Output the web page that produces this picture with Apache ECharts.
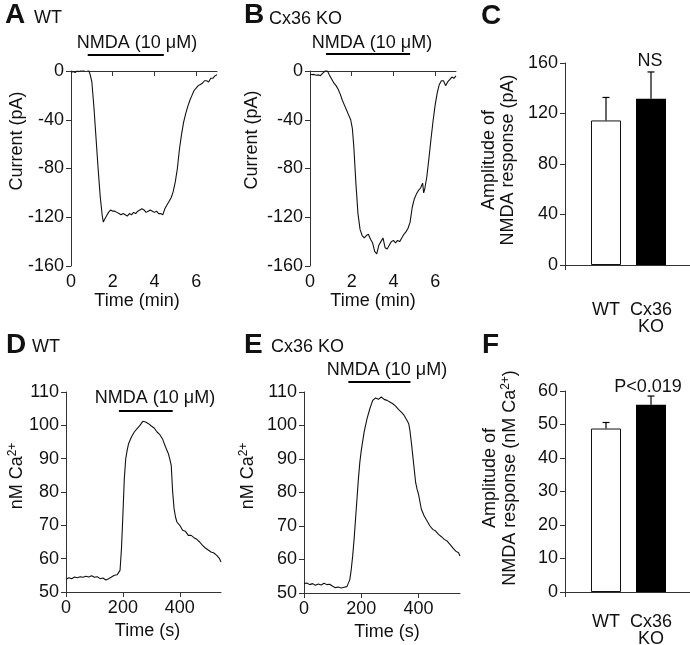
<!DOCTYPE html>
<html>
<head>
<meta charset="utf-8">
<script src="https://cdn.jsdelivr.net/npm/echarts@6/dist/echarts.min.js"></script>
<style>
html,body{margin:0;padding:0;background:#fff;}
#main{width:690px;height:645px;}
</style>
</head>
<body>
<div id="main"></div>
<script>
// A - WT whole-cell current (min, pA)
var tA=[0,0.1,0.2,0.3,0.4,0.5,0.6,0.7,0.78,0.85,0.92,1.0,1.1,1.2,1.3,1.4,1.5,1.55,1.6,1.7,1.8,1.9,2.0,2.1,2.2,2.3,2.4,2.5,2.6,2.7,2.8,2.9,3.0,3.1,3.2,3.3,3.4,3.5,3.6,3.7,3.8,3.9,4.0,4.1,4.2,4.3,4.4,4.5,4.6,4.7,4.8,4.9,5.0,5.1,5.2,5.3,5.4,5.5,5.6,5.7,5.8,5.9,6.0,6.1,6.2,6.3,6.4,6.5,6.6,6.7,6.8,6.9,7.0];
var iA=[-1,-0.5,-1.2,0.3,-0.4,0.8,0.2,1.5,3,0.5,-3,-9,-30,-55,-80,-103,-119,-124,-122,-119,-116,-114,-115,-115,-116,-117,-118,-117,-118,-119,-117,-118,-116,-117,-115,-114,-113,-114,-116,-115,-114,-115,-116,-115,-117,-117,-118,-113,-110,-107,-104,-99,-91,-80,-64,-52,-42,-35,-29,-24,-20,-16,-14,-12,-11,-10,-8,-8,-9,-6,-6,-4,-3];

// B - Cx36 KO whole-cell current
var tB=[0,0.1,0.2,0.3,0.4,0.5,0.6,0.7,0.77,0.85,0.95,1.05,1.15,1.25,1.35,1.45,1.55,1.65,1.75,1.85,1.95,2.03,2.1,2.2,2.3,2.4,2.5,2.6,2.7,2.8,2.9,3.0,3.1,3.2,3.3,3.4,3.5,3.6,3.7,3.8,3.9,4.0,4.1,4.2,4.3,4.4,4.5,4.6,4.7,4.8,4.9,5.0,5.1,5.2,5.3,5.4,5.45,5.5,5.6,5.7,5.8,5.9,6.0,6.1,6.2,6.3,6.4,6.5,6.6,6.7,6.8,6.9,7.0];
var iB=[-2.5,-3,-2.8,-3.5,-3.2,-3.8,-2,-0.5,1.5,-0.5,-4,-7,-10,-12,-15,-19,-24,-28,-32,-36,-40,-47,-62,-92,-117,-130,-135,-137,-135,-134,-138,-141,-148,-150,-143,-140,-137,-145,-146,-143,-140,-139,-141,-139,-140,-137,-134,-132,-129,-124,-112,-105,-101,-98,-96,-92,-100,-97,-87,-72,-56,-41,-28,-18,-11,-8,-8,-12,-9,-7,-5,-6,-4];

// C - amplitude of NMDA current (pA), mean and SEM
var groups=['WT','Cx36\nKO'];
var ampC=[114.5,131.7];
var semC=[18.2,21.2];

// D - WT calcium (s, nM)
var tD=[0,10,20,30,40,50,60,70,80,90,100,110,120,130,140,150,160,170,180,186,190,195,200,205,210,215,220,230,240,250,260,270,280,290,300,310,320,330,340,350,360,366,370,375,380,385,390,400,410,420,430,440,450,460,470,480,490,500,510,520,530,540,545];
var cD=[53.8,54.3,54.0,54.5,54.3,54.6,54.4,54.7,54.5,54.9,54.4,54.6,54.0,54.2,53.6,54.0,54.5,55.0,55.2,55.6,56.5,63,73,84,90,92.5,94.5,96.5,98,99,100,101.2,101,100.5,99.8,99.2,98,97.2,95.8,93.5,91.5,89.5,88,80,75,72.5,71,70,68.5,68.2,67,67,66.3,65.8,65,64,63.2,62.6,62,61.7,61,60,59];

// E - Cx36 KO calcium
var tE=[0,10,20,30,40,50,60,70,80,90,100,110,120,130,140,150,155,160,165,170,175,180,185,190,195,200,210,220,230,240,250,260,270,280,290,300,310,320,330,340,350,360,366,370,375,380,385,390,395,400,410,420,430,440,450,460,470,480,490,500,510,520,530,540,545];
var cE=[52.8,53.0,52.5,52.8,52.3,52.7,52.4,52.9,52.5,52.6,52.0,51.6,51.8,51.5,51.7,51.9,52.3,54,57,61,66,72,78,84,89,92.5,98,102,105,107.5,108.2,107.8,108.5,107.8,107.5,107,106.5,105.8,104.8,104,103,101.5,100.5,98.5,95,91,87,83,81,79.5,75,73,71.5,70,69,68.5,67.5,66.8,66,65.5,64.5,63.5,62.5,62,61];

// F - amplitude of calcium response (nM), mean and SEM
var ampF=[48.8,55.9];
var semF=[1.8,2.6];

// NMDA application periods
var nmdaA=[0.8,4.45];
var nmdaB=[0.77,4.8];
var nmdaD=[186,375];
var nmdaE=[155,372];

var FONT='"Liberation Sans", Arial, Helvetica, sans-serif';
var INK='#111';

function zip(a,b){
	var out=[];
	for(var i=0;i<a.length;i++){out.push([a[i],b[i]]);}
	return out;
}

function xAx(idx,min,max,ticks,name,pad,gap){
	return {
		type:'value',gridIndex:idx,min:min,max:max,
		axisLine:{lineStyle:{color:'#333',width:1}},
		axisTick:{length:5,customValues:ticks,lineStyle:{color:'#333'}},
		axisLabel:{customValues:ticks,fontSize:18,color:INK,fontFamily:FONT,margin:7},
		splitLine:{show:false},
		name:name,nameLocation:'middle',nameGap:gap,
		nameTextStyle:{fontSize:18,color:INK,fontFamily:FONT,padding:pad}
	};
}
function yAx(idx,min,max,interval){
	return {
		type:'value',gridIndex:idx,min:min,max:max,interval:interval,
		axisLine:{show:true,lineStyle:{color:'#333',width:1}},
		axisTick:{show:true,length:5,lineStyle:{color:'#333'}},
		axisLabel:{fontSize:18,color:INK,fontFamily:FONT,margin:7},
		splitLine:{show:false}
	};
}
function baseX(idx){
	return {
		type:'value',gridIndex:idx,min:0,max:1,
		axisLine:{lineStyle:{color:'#333',width:1}},
		axisTick:{length:5,customValues:[0],lineStyle:{color:'#333'}},
		axisLabel:{show:false},splitLine:{show:false}
	};
}
function catX(idx,margin){
	return {
		type:'category',gridIndex:idx,data:groups,
		axisLine:{show:false},axisTick:{show:false},
		axisLabel:{interval:0,hideOverlap:false,fontSize:18,color:INK,fontFamily:FONT,margin:margin,lineHeight:17}
	};
}
function hiddenY(idx,min,max){
	return {type:'value',gridIndex:idx,min:min,max:max,show:false,splitLine:{show:false}};
}

function barSeries(idx,vals){
	return {
		type:'bar',xAxisIndex:idx,yAxisIndex:idx,barWidth:30,
		data:[
			{value:vals[0],itemStyle:{color:'#fff',borderColor:INK,borderWidth:1}},
			{value:vals[1],itemStyle:{color:'#000'}}
		]
	};
}
function errSeries(idx,vals,sems){
	var d=[];
	for(var i=0;i<vals.length;i++){d.push([i,vals[i],vals[i]+sems[i]]);}
	return {
		type:'custom',xAxisIndex:idx,yAxisIndex:idx,z:5,data:d,
		renderItem:function(params,api){
			var p0=api.coord([api.value(0),api.value(1)]);
			var p1=api.coord([api.value(0),api.value(2)]);
			var st={stroke:'#000',lineWidth:1.2};
			return {type:'group',children:[
				{type:'line',shape:{x1:p0[0],y1:p0[1],x2:p1[0],y2:p1[1]},style:st},
				{type:'line',shape:{x1:p1[0]-3.5,y1:p1[1],x2:p1[0]+3.5,y2:p1[1]},style:st}
			]};
		}
	};
}
function trace(idx,t,v){
	return {
		type:'line',xAxisIndex:idx,yAxisIndex:idx,data:zip(t,v),
		showSymbol:false,symbol:'none',lineStyle:{color:INK,width:1.1},z:3
	};
}
function grid(l,t,w,h){
	return {left:l,top:t,width:w,height:h,outerBoundsMode:'none',containLabel:false};
}

var myChart=echarts.init(document.getElementById('main'),null,{renderer:'canvas'});
var option={
	animation:false,
	backgroundColor:'#fff',
	grid:[
		grid(71,71,146,195),
		grid(310,71,146,195),
		grid(565,63,125,202),
		grid(583.5,63,90,202),
		grid(66,392,155,200),
		grid(304,392,156,201),
		grid(565,391,125,201),
		grid(583.5,391,90,201)
	],
	xAxis:[
		xAx(0,0,7,[0,2,4,6],'Time (min)',[0,14,0,0],26),
		xAx(1,0,7,[0,2,4,6],'Time (min)',[0,20,0,0],26),
		baseX(2),
		catX(3,37),
		xAx(4,0,545,[0,200,400],'Time (s)',[0,0,0,8],30),
		xAx(5,0,545,[0,200,400],'Time (s)',[0,0,0,10],30),
		baseX(6),
		catX(7,22)
	],
	yAxis:[
		yAx(0,-160,0,40),
		yAx(1,-160,0,40),
		yAx(2,0,160,40),
		hiddenY(3,0,160),
		yAx(4,50,110,10),
		yAx(5,50,110,10),
		yAx(6,0,60,10),
		hiddenY(7,0,60)
	],
	series:[
		trace(0,tA,iA),
		trace(1,tB,iB),
		barSeries(3,ampC),
		errSeries(3,ampC,semC),
		trace(4,tD,cD),
		trace(5,tE,cE),
		barSeries(7,ampF),
		errSeries(7,ampF,semF)
	]
};
myChart.setOption(option);

// text and NMDA bars
function txt(x,y,s,size,opt){
	opt=opt||{};
	return {
		type:'text',x:x,y:y,rotation:opt.rot||0,z:10,
		style:{
			text:s,fontSize:size,fontFamily:FONT,fill:INK,
			fontWeight:opt.bold?'bold':'normal',
			align:opt.align||'center',verticalAlign:'middle',
			lineHeight:opt.lh,rich:opt.rich
		}
	};
}
function nmdaBar(grid,range,y){
	var p0=myChart.convertToPixel({gridIndex:grid},[range[0],0]);
	var p1=myChart.convertToPixel({gridIndex:grid},[range[1],0]);
	return {type:'line',z:10,shape:{x1:p0[0],y1:y,x2:p1[0],y2:y},style:{stroke:'#000',lineWidth:2}};
}
var R=Math.PI/2;
var caRich={
	a:{fontSize:18,fontFamily:FONT,fill:INK,lineHeight:20},
	s:{fontSize:12,fontFamily:FONT,fill:INK,verticalAlign:'top',lineHeight:20}
};
var g=[
	txt(5,15,'A',28,{bold:true,align:'left'}),
	txt(244,15,'B',28,{bold:true,align:'left'}),
	txt(481,16,'C',28,{bold:true,align:'left'}),
	txt(6,345,'D',28,{bold:true,align:'left'}),
	txt(244,345,'E',28,{bold:true,align:'left'}),
	txt(482,345,'F',28,{bold:true,align:'left'}),
	txt(34,18,'WT',18,{align:'left'}),
	txt(269,19,'Cx36 KO',18,{align:'left'}),
	txt(32,347,'WT',18,{align:'left'}),
	txt(271,347,'Cx36 KO',18,{align:'left'}),
	txt(137,43,'NMDA (10 μM)',18),
	txt(372,43,'NMDA (10 μM)',18),
	txt(155,398,'NMDA (10 μM)',18),
	txt(387,370,'NMDA (10 μM)',18),
	txt(650,61,'NS',18),
	txt(648,387,'P<0.019',18),
	txt(17,141,'Current (pA)',18,{rot:R}),
	txt(252,140,'Current (pA)',18,{rot:R}),
	txt(499,160,'Amplitude of\nNMDA response (pA)',18,{rot:R,lh:19}),
	txt(17,476,'{a|nM Ca}{s|2+}',18,{rot:R,rich:caRich}),
	txt(248,476,'{a|nM Ca}{s|2+}',18,{rot:R,rich:caRich}),
	txt(500,478,'{a|Amplitude of}\n{a|NMDA response (nM Ca}{s|2+}{a|)}',18,{rot:R,rich:caRich}),
	nmdaBar(0,nmdaA,55),
	nmdaBar(1,nmdaB,54),
	nmdaBar(4,nmdaD,411),
	nmdaBar(5,nmdaE,382)
];
myChart.setOption({graphic:g});
</script>
</body>
</html>
